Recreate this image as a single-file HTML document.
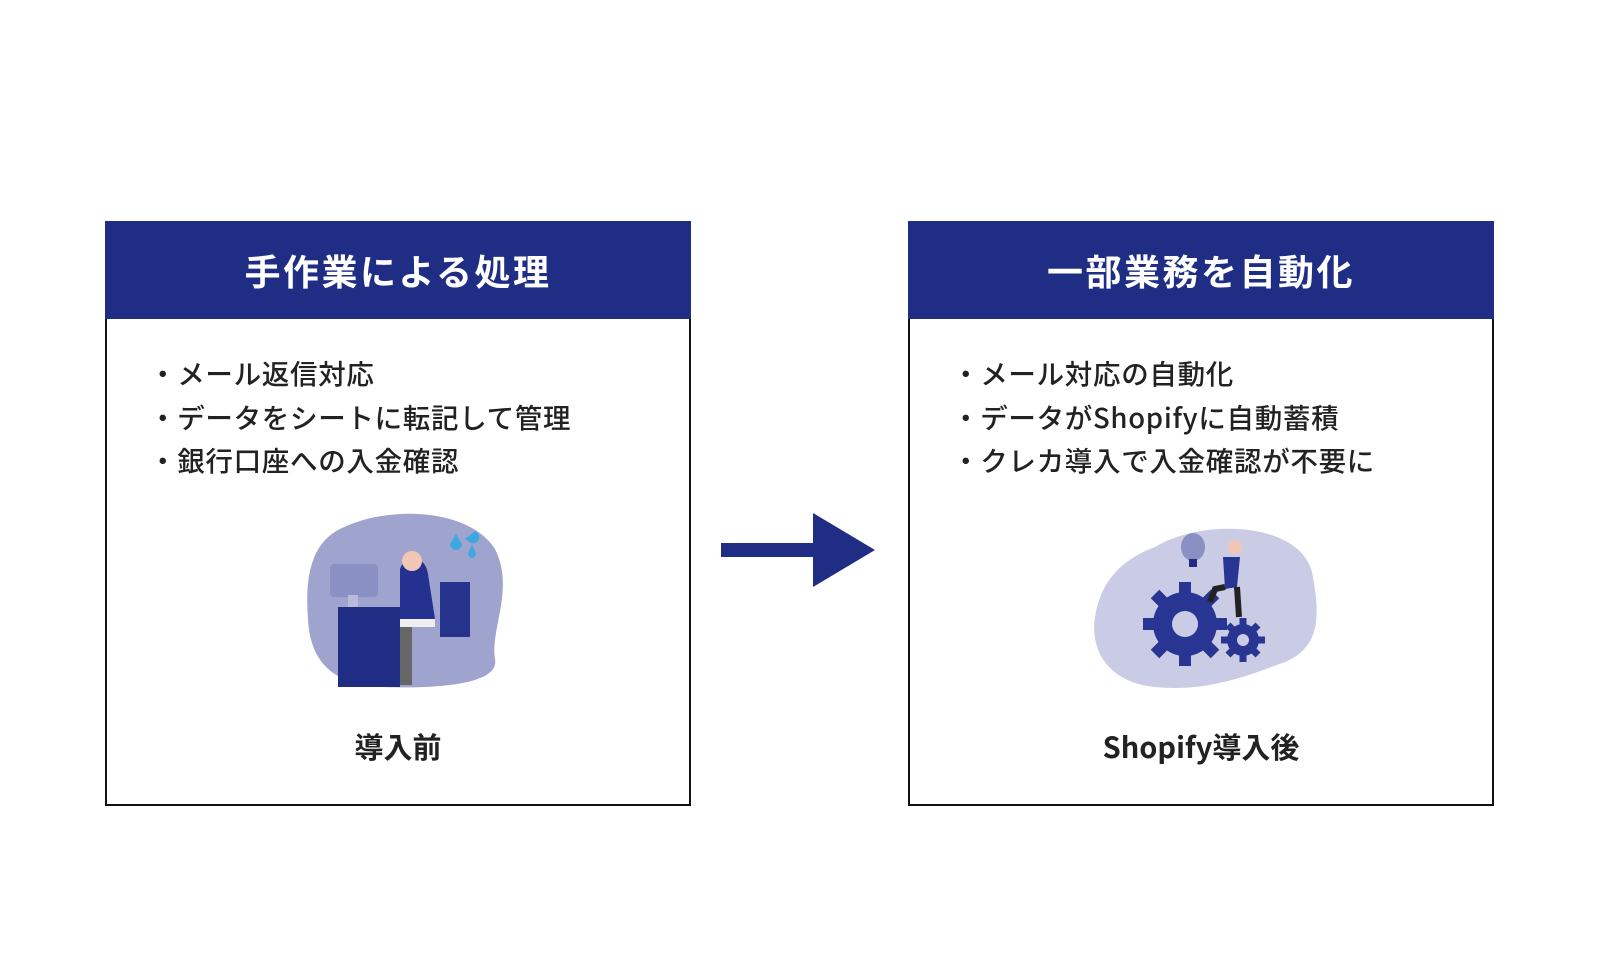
<!DOCTYPE html>
<html><head><meta charset="utf-8"><style>
body{margin:0;width:1600px;height:960px;background:#fff;position:relative;font-family:"Noto Sans CJK JP","Liberation Sans",sans-serif;overflow:hidden}
.box{position:absolute;top:221px;width:582px;height:581px;border:2px solid #111;}
.hd{position:absolute;left:-2px;top:-2px;right:-2px;height:98px;background:#1f2d84;color:#fff;font-size:36px;font-weight:bold;text-align:center;line-height:98px;letter-spacing:2.5px}
.list{position:absolute;left:42px;top:128px;font-size:27.5px;font-weight:500;color:#222;line-height:43.5px;white-space:nowrap;letter-spacing:0.7px}
.ft{position:absolute;left:0;right:0;top:503px;text-align:center;font-size:29px;font-weight:bold;color:#222;line-height:40px}
svg.il{position:absolute}
</style></head><body>
<div class="box" style="left:105px">
<div class="hd">手作業による処理</div>
<div class="list">・メール返信対応<br>・データをシートに転記して管理<br>・銀行口座への入金確認</div>
<svg class="il" style="left:193px;top:286px" width="210" height="185" viewBox="0 0 210 185">
<path d="M40 20 C90 -5 170 0 195 40 C215 80 190 120 195 150 C200 175 140 180 80 178 C30 175 10 150 8 110 C5 70 10 35 40 20Z" fill="#9fa4cf"/>
<rect x="30" y="55" width="48" height="33" rx="4" fill="#8a8fc4"/>
<rect x="48" y="86" width="10" height="12" fill="#b8bbdc"/>
<rect x="38" y="98" width="62" height="80" fill="#1f2d84"/>
<path d="M140 73 h30 v55 h-30z" fill="#26338c"/>
<path d="M100 60 C105 45 125 45 128 65 L135 110 L100 110Z" fill="#253190"/>
<circle cx="112" cy="52" r="10" fill="#f2c6b4"/>
<rect x="100" y="110" width="35" height="8" fill="#eee"/>
<rect x="100" y="118" width="12" height="58" fill="#666"/>
<path d="M150 35 l6 -10 l6 10 a6 6 0 1 1 -12 0z M165 30 l10 -8 a6 6 0 1 1 -4 12z M168 45 l4 -10 l4 10 a4 4 0 1 1 -8 0z" fill="#3da7e0"/>
</svg>
<div class="ft">導入前</div>
</div>
<svg style="position:absolute;left:716px;top:510px" width="165" height="80"><rect x="5" y="33" width="95" height="14" fill="#1f2d84"/><polygon points="97,3 159,40 97,77" fill="#1f2d84"/></svg>
<div class="box" style="left:908px">
<div class="hd">一部業務を自動化</div>
<div class="list">・メール対応の自動化<br>・データがShopifyに自動蓄積<br>・クレカ導入で入金確認が不要に</div>
<svg class="il" style="left:175px;top:294px" width="240" height="180" viewBox="0 0 240 180">
<path d="M70 30 C120 0 220 5 228 60 C235 100 235 130 200 145 C160 160 120 175 70 170 C20 165 5 130 10 100 C15 70 30 45 70 30Z" fill="#c9cce4"/>
<ellipse cx="108" cy="30" rx="12" ry="14" fill="#8a8fc4"/><rect x="104" y="42" width="8" height="8" fill="#1f2d84"/>
<g fill="#283593"><circle cx="100" cy="107" r="32"/>
<g stroke="#283593" stroke-width="12"><line x1="100" y1="65" x2="100" y2="149"/><line x1="58" y1="107" x2="142" y2="107"/><line x1="70" y1="77" x2="130" y2="137"/><line x1="130" y1="77" x2="70" y2="137"/></g>
<circle cx="158" cy="123" r="16"/><g stroke="#283593" stroke-width="7"><line x1="158" y1="101" x2="158" y2="145"/><line x1="136" y1="123" x2="180" y2="123"/><line x1="143" y1="108" x2="173" y2="138"/><line x1="173" y1="108" x2="143" y2="138"/></g></g>
<circle cx="100" cy="107" r="13" fill="#c9cce4"/><circle cx="158" cy="123" r="6" fill="#c9cce4"/>
<path d="M138 40 L155 40 L152 70 L140 72Z" fill="#283593"/><circle cx="150" cy="30" r="7" fill="#f2c6b4"/>
<path d="M140 70 L130 72 L125 85 M152 70 L154 100" stroke="#222" stroke-width="6" fill="none"/>
</svg>
<div class="ft">Shopify導入後</div>
</div>
</body></html>
